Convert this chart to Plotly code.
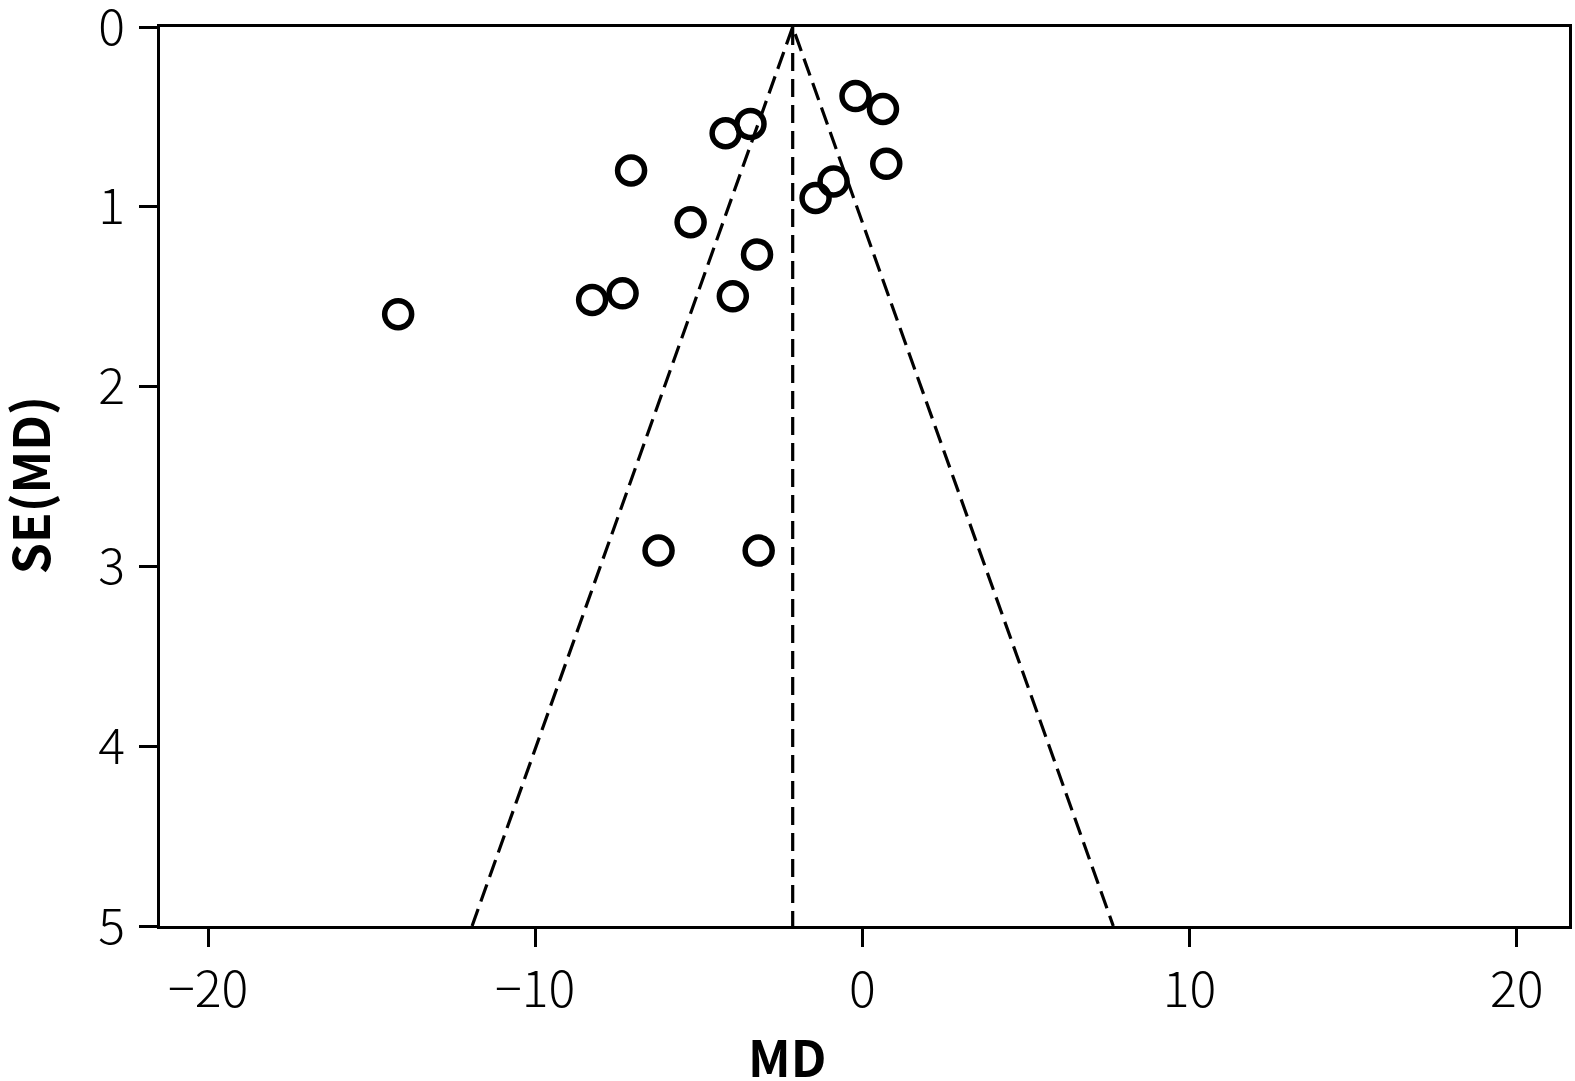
import plotly.graph_objects as go

# Study estimates
md = [-14.19, -8.26, -7.33, -7.07, -6.23, -5.25, -4.18, -3.96,
      -3.42, -3.22, -3.17, -1.43, -0.88, -0.21, 0.63, 0.73]
se = [1.597, 1.518, 1.481, 0.798, 2.912, 1.086, 0.591, 1.498,
      0.539, 1.265, 2.912, 0.951, 0.859, 0.384, 0.456, 0.761]

pooled_md = -2.13
z = 1.96
se_max = 5.0

x_ticks = [-20, -10, 0, 10, 20]
x_labels = ["\u221220", "\u221210", "0", "10", "20"]
y_ticks = [0, 1, 2, 3, 4, 5]

tick_font = dict(family="Noto Sans CJK KR", size=50, color="black", weight=300)
title_font = dict(family="Noto Sans CJK KR", size=50, color="black", weight=700)

W, H = 1575, 1081
L, R, T, B = 160, 5.5, 26.5, 155
plot_w = W - L - R
plot_h = H - T - B

fig = go.Figure()

dash = "18px,8px"
fig.add_trace(go.Scatter(
    x=[pooled_md - z * se_max, pooled_md, pooled_md + z * se_max],
    y=[se_max, 0, se_max],
    mode="lines", line=dict(color="black", width=3.2, dash=dash),
    hoverinfo="skip", showlegend=False))
fig.add_trace(go.Scatter(
    x=[pooled_md, pooled_md], y=[0, se_max],
    mode="lines", line=dict(color="black", width=3.2, dash=dash),
    hoverinfo="skip", showlegend=False))

fig.add_trace(go.Scatter(
    x=md, y=se, mode="markers",
    marker=dict(symbol="circle-open", size=27, color="black",
                line=dict(color="black", width=5.5)),
    showlegend=False, cliponaxis=False))

axis_common = dict(
    showgrid=False, zeroline=False, showline=True, linecolor="black",
    linewidth=3, mirror=True, ticks="outside", ticklen=18, tickwidth=3,
    tickcolor="black", tickfont=tick_font, automargin=False,
    ticklabeloverflow="allow",
)

fig.update_xaxes(range=[-21.47, 21.6], tickvals=x_ticks, ticktext=x_labels,
                 ticklabelstandoff=0, **axis_common)
fig.update_yaxes(range=[5, 0], tickvals=y_ticks, ticklabelstandoff=4,
                 **axis_common)

fig.add_annotation(
    text="MD", font=title_font, showarrow=False,
    xref="paper", yref="paper",
    x=(W / 2 - L) / plot_w, y=(T + plot_h - 1055) / plot_h,
    xanchor="center", yanchor="middle")
fig.add_annotation(
    text="SE(MD)", font=title_font, showarrow=False, textangle=-90,
    xref="paper", yref="paper",
    x=(28 - L) / plot_w, y=(T + plot_h - 485) / plot_h,
    xanchor="center", yanchor="middle")

fig.update_layout(
    width=W, height=H,
    margin=dict(l=L, r=R, t=T, b=B, pad=0),
    plot_bgcolor="white", paper_bgcolor="white",
)

fig.write_html("out.html",
               config={"displayModeBar": False},
               post_script="document.body.style.margin='0';"
                           "document.body.style.overflow='hidden';")
